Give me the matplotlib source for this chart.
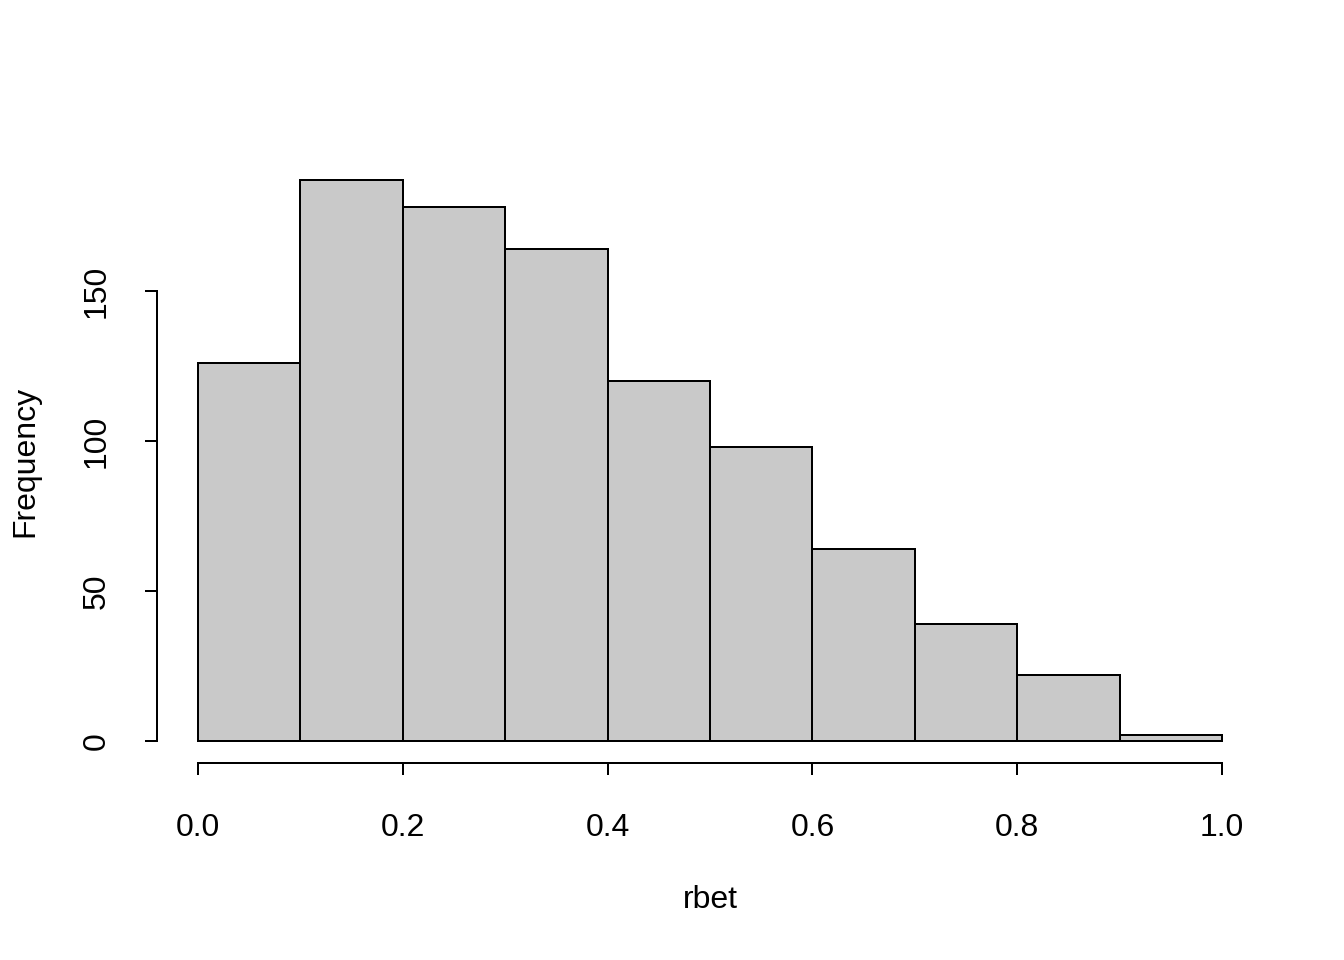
import matplotlib

matplotlib.use("Agg")
import matplotlib.pyplot as plt  # noqa: E402

# histogram of rbet: bin edges and counts
bin_edges = [0.0, 0.1, 0.2, 0.3, 0.4, 0.5, 0.6, 0.7, 0.8, 0.9, 1.0]
counts = [126, 187, 178, 164, 120, 98, 64, 39, 22, 2]
x_ticks = [0.0, 0.2, 0.4, 0.6, 0.8, 1.0]
x_tick_labels = ["0.0", "0.2", "0.4", "0.6", "0.8", "1.0"]
y_ticks = [0, 50, 100, 150]

plt.rcParams["font.family"] = ["Liberation Sans", "DejaVu Sans"]
plt.rcParams["font.size"] = 12

fig = plt.figure(figsize=(7, 5), dpi=192)
ax = fig.add_axes([157 / 1344, 1 - 763.4 / 960, 1106 / 1344, 605.8 / 960])

widths = [b - a for a, b in zip(bin_edges[:-1], bin_edges[1:])]
ax.bar(bin_edges[:-1], counts, width=widths, align="edge",
       color="#C9C9C9", edgecolor="black", linewidth=0.75)

ymax = max(counts)
ax.set_xlim(-0.04, 1.04)
ax.set_ylim(-0.04 * ymax, 1.04 * ymax)

for side in ("top", "right"):
    ax.spines[side].set_visible(False)
ax.spines["left"].set_bounds(y_ticks[0], y_ticks[-1])
ax.spines["bottom"].set_bounds(x_ticks[0], x_ticks[-1])
for side in ("left", "bottom"):
    ax.spines[side].set_linewidth(0.75)

ax.set_xticks(x_ticks)
ax.set_xticklabels(x_tick_labels)
ax.set_yticks(y_ticks)
ax.set_yticklabels([str(v) for v in y_ticks], rotation=90, va="center")
ax.tick_params(axis="both", length=4.5, width=0.75, labelsize=12)
ax.tick_params(axis="x", pad=14)
ax.tick_params(axis="y", pad=12.4)

ax.set_xlabel("rbet", fontsize=12)
ax.set_ylabel("Frequency", fontsize=12)
ax.xaxis.set_label_coords((710 - 157) / 1106, (763.4 - 900) / 605.8)
ax.xaxis.label.set_va("center")
ax.yaxis.set_label_coords((25 - 157) / 1106, (763.4 - 461) / 605.8)
ax.yaxis.label.set_va("center")

fig.savefig("out.png", dpi=192)
plt.close(fig)
